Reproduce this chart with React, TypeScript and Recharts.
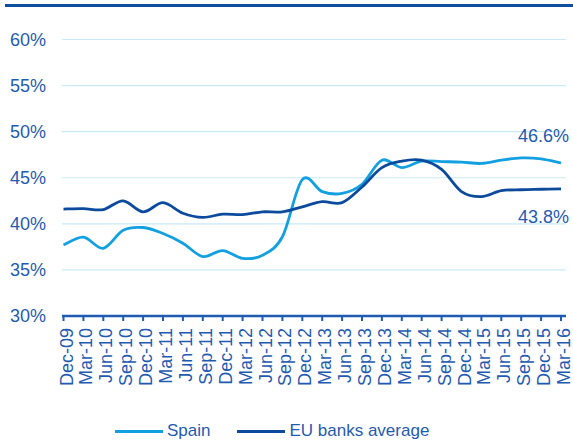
import React from 'react';
import { LineChart, Line, XAxis, YAxis, CartesianGrid, Legend, LabelList } from 'recharts';

const quarters = [
  'Dec-09', 'Mar-10', 'Jun-10', 'Sep-10', 'Dec-10', 'Mar-11', 'Jun-11', 'Sep-11', 'Dec-11',
  'Mar-12', 'Jun-12', 'Sep-12', 'Dec-12', 'Mar-13', 'Jun-13', 'Sep-13', 'Dec-13',
  'Mar-14', 'Jun-14', 'Sep-14', 'Dec-14', 'Mar-15', 'Jun-15', 'Sep-15', 'Dec-15', 'Mar-16',
];
const spain = [
  37.7, 38.55, 37.35, 39.3, 39.6, 38.95, 37.9, 36.45, 37.1, 36.25, 36.6, 38.6, 44.8,
  43.5, 43.3, 44.3, 46.9, 46.1, 46.8, 46.75, 46.7, 46.55, 46.9, 47.15, 47.05, 46.6,
];
const eu = [
  41.6, 41.65, 41.55, 42.5, 41.3, 42.3, 41.15, 40.7, 41.05, 41.0, 41.3, 41.3, 41.85,
  42.4, 42.3, 44.0, 46.1, 46.8, 46.9, 45.9, 43.5, 42.95, 43.6, 43.7, 43.75, 43.8,
];
const yTicks = [30, 35, 40, 45, 50, 55, 60];
const seriesOrder = ['Spain', 'EU banks average'];

const data = quarters.map((q, i) => ({ q, spain: spain[i], eu: eu[i] }));

const TEXT = '#1f5bb0';
const DARK = '#0b4a9c';
const LIGHT = '#12a0e0';
const GRID = '#c8eaf7';
const FONT = '"Liberation Sans", Arial, sans-serif';

// Excel-like smoothing (uniform Catmull-Rom as cubic Bezier)
const smooth: any = (context: any) => {
  let pts: number[][] = [];
  return {
    areaStart() {},
    areaEnd() {},
    lineStart() { pts = []; },
    point(x: number, y: number) { pts.push([+x, +y]); },
    lineEnd() {
      const n = pts.length;
      if (!n) return;
      context.moveTo(pts[0][0], pts[0][1]);
      for (let i = 0; i < n - 1; i++) {
        const p0 = pts[i - 1] || pts[i];
        const p1 = pts[i];
        const p2 = pts[i + 1];
        const p3 = pts[i + 2] || pts[i + 1];
        context.bezierCurveTo(
          p1[0] + (p2[0] - p0[0]) / 6, p1[1] + (p2[1] - p0[1]) / 6,
          p2[0] - (p3[0] - p1[0]) / 6, p2[1] - (p3[1] - p1[1]) / 6,
          p2[0], p2[1],
        );
      }
    },
  };
};

const XTick = (props: any) => {
  const { x, y, payload } = props;
  const ty = y + 7;
  return (
    <text x={x} y={ty} dy={9} transform={`rotate(-90, ${x}, ${ty})`} textAnchor="end"
      fontSize={18} fill={TEXT} fontFamily={FONT}>
      {payload.value}
    </text>
  );
};

const lastLabel = (offset: number) => (props: any) => {
  const { x, y, index, value } = props;
  if (index !== quarters.length - 1) return null;
  return (
    <text x={x + 8} y={y + offset} textAnchor="end" fontSize={18} fill={TEXT} fontFamily={FONT}>
      {`${Number(value).toFixed(1)}%`}
    </text>
  );
};

const LegendContent = (props: any) => {
  const payload = [...(props.payload || [])].sort(
    (a: any, b: any) => seriesOrder.indexOf(a.value) - seriesOrder.indexOf(b.value),
  );
  return (
    <div style={{ display: 'flex', alignItems: 'center', height: 24, paddingLeft: 115, fontFamily: FONT, fontSize: 17, color: TEXT }}>
      {payload.map((p: any, i: number) => (
        <div key={i} style={{ display: 'flex', alignItems: 'center', marginRight: 27 }}>
          <div style={{ width: 48, height: 3, background: p.color, marginRight: 4 }} />
          <span>{p.value}</span>
        </div>
      ))}
    </div>
  );
};

export default function App() {
  return (
    <div style={{ position: 'absolute', left: 0, top: 0, width: 573, height: 441, background: '#fff' }}>
      <div style={{ position: 'absolute', left: 5, top: 4, width: 568, height: 3, background: '#0b4ea2' }} />
      <LineChart width={573} height={441} data={data}
        margin={{ top: 39.5, right: 7, left: 0, bottom: 21 }}>
        <CartesianGrid vertical={false} stroke={GRID} strokeWidth={1.2} />
        <XAxis dataKey="q" interval={0} tick={<XTick />} height={80}
          tickSize={5} tickMargin={0} padding={{ left: 1.5, right: 5 }}
          axisLine={{ stroke: '#1f5bb0', strokeWidth: 2.5 }}
          tickLine={{ stroke: '#1f5bb0', strokeWidth: 2 }} />
        <YAxis domain={[30, 60]} ticks={yTicks} width={62} axisLine={false} tickLine={false}
          tickSize={0} tickMargin={16} tickFormatter={(v: number) => `${v}%`}
          tick={{ fontSize: 18, fill: TEXT, fontFamily: FONT }} />
        <Legend verticalAlign="bottom" content={<LegendContent />}
          wrapperStyle={{ top: 419, bottom: 'auto', left: 0, width: 573, height: 24 }} />
        <Line dataKey="spain" name="Spain" stroke={LIGHT} strokeWidth={2.8} dot={false}
          type={smooth} isAnimationActive={false}>
          <LabelList dataKey="spain" content={lastLabel(-21.5)} />
        </Line>
        <Line dataKey="eu" name="EU banks average" stroke={DARK} strokeWidth={2.8} dot={false}
          type={smooth} isAnimationActive={false}>
          <LabelList dataKey="eu" content={lastLabel(34.6)} />
        </Line>
      </LineChart>
    </div>
  );
}
